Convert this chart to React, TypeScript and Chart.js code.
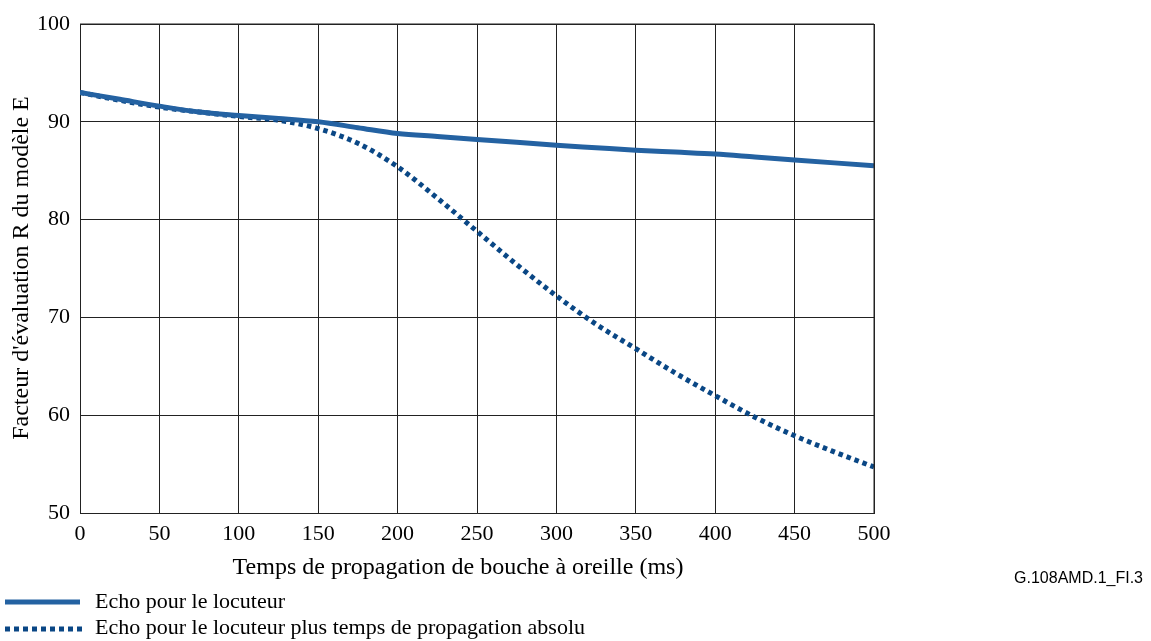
import React, { useEffect, useRef } from "react";
import { Chart, registerables } from "chart.js";

Chart.register(...registerables);

const delays = [0, 25, 50, 75, 100, 125, 150, 175, 200, 225, 250, 275, 300, 325, 350, 375, 400, 425, 450, 475, 500];
const echoSpeaker = [93.0, 92.3, 91.6, 91.0, 90.65, 90.35, 90.0, 89.4, 88.8, 88.5, 88.2, 87.9, 87.6, 87.35, 87.1, 86.9, 86.7, 86.4, 86.1, 85.8, 85.5];
const echoSpeakerAbs = [93.0, 92.2, 91.5, 91.0, 90.55, 90.15, 89.3, 87.8, 85.4, 82.2, 78.8, 75.4, 72.2, 69.3, 66.8, 64.3, 62.0, 59.8, 57.9, 56.25, 54.7];
const xTicks = [0, 50, 100, 150, 200, 250, 300, 350, 400, 450, 500];
const yTicks = [50, 60, 70, 80, 90, 100];

const seriesLabels = [
  "Echo pour le locuteur",
  "Echo pour le locuteur plus temps de propagation absolu",
];
const xTitle = "Temps de propagation de bouche à oreille (ms)";
const yTitle = "Facteur d'évaluation R du modèle E";
const figureId = "G.108AMD.1_FI.3";

const SOLID = "#2462a2";
const DOTTED = "#0a4785";
const SERIF = "'Liberation Serif', 'Times New Roman', serif";

const textPlugin = {
  id: "textPlugin",
  afterDraw(chart: any) {
    const ctx = chart.ctx as CanvasRenderingContext2D;
    ctx.save();
    ctx.fillStyle = "#000";
    ctx.font = `24px ${SERIF}`;
    ctx.textAlign = "center";
    ctx.textBaseline = "middle";
    ctx.fillText(xTitle, 458, 568);
    ctx.save();
    ctx.translate(22, 268);
    ctx.rotate(-Math.PI / 2);
    ctx.fillText(yTitle, 0, 0);
    ctx.restore();

    // legend
    ctx.lineCap = "butt";
    ctx.lineWidth = 5;
    ctx.strokeStyle = SOLID;
    ctx.setLineDash([]);
    ctx.beginPath();
    ctx.moveTo(5, 602);
    ctx.lineTo(80, 602);
    ctx.stroke();
    ctx.strokeStyle = DOTTED;
    ctx.setLineDash([5, 4]);
    ctx.beginPath();
    ctx.moveTo(5, 629);
    ctx.lineTo(82, 629);
    ctx.stroke();
    ctx.setLineDash([]);
    ctx.textAlign = "left";
    ctx.font = `22px ${SERIF}`;
    ctx.fillText(seriesLabels[0], 95, 602);
    ctx.fillText(seriesLabels[1], 95, 628);

    ctx.font = "16px 'Liberation Sans', Arial, sans-serif";
    ctx.textAlign = "right";
    ctx.fillText(figureId, 1143, 579);
    ctx.restore();
  },
};

export default function App() {
  const ref = useRef<HTMLCanvasElement>(null);
  useEffect(() => {
    if (!ref.current) return;
    const chart = new Chart(ref.current, {
      type: "line",
      data: {
        datasets: [
          {
            label: seriesLabels[0],
            data: delays.map((x, i) => ({ x, y: echoSpeaker[i] })),
            borderColor: SOLID,
            borderWidth: 5,
            pointRadius: 0,
            cubicInterpolationMode: "monotone",
            fill: false,
          },
          {
            label: seriesLabels[1],
            data: delays.map((x, i) => ({ x, y: echoSpeakerAbs[i] })),
            borderColor: DOTTED,
            borderWidth: 5,
            borderDash: [4.5, 4],
            borderCapStyle: "butt",
            pointRadius: 0,
            cubicInterpolationMode: "monotone",
            fill: false,
          },
        ],
      },
      options: {
        animation: false,
        responsive: true,
        maintainAspectRatio: false,
        layout: { padding: { top: 24, right: 277, left: 0, bottom: 0 } },
        plugins: { legend: { display: false }, tooltip: { enabled: false } },
        scales: {
          x: {
            type: "linear",
            min: 0,
            max: 500,
            afterBuildTicks: (s: any) => {
              s.ticks = xTicks.map((v) => ({ value: v }));
            },
            afterFit: (s: any) => {
              s.height = 128;
            },
            ticks: { font: { family: SERIF, size: 22 }, color: "#000", padding: 8, maxRotation: 0 },
            grid: { color: "#222", lineWidth: 1, drawTicks: false },
            border: { color: "#222", width: 1 },
          },
          y: {
            type: "linear",
            min: 50,
            max: 100,
            afterBuildTicks: (s: any) => {
              s.ticks = yTicks.map((v) => ({ value: v }));
            },
            afterFit: (s: any) => {
              s.width = 80;
            },
            ticks: { font: { family: SERIF, size: 22 }, color: "#000", padding: 10 },
            grid: { color: "#222", lineWidth: 1, drawTicks: false },
            border: { color: "#222", width: 1 },
          },
        },
      },
      plugins: [
        textPlugin,
        {
          id: "rightBorder",
          afterDraw(c: any) {
            const { ctx, chartArea } = c;
            ctx.save();
            ctx.strokeStyle = "#222";
            ctx.lineWidth = 1;
            ctx.beginPath();
            ctx.moveTo(chartArea.right, chartArea.top);
            ctx.lineTo(chartArea.right, chartArea.bottom);
            ctx.moveTo(chartArea.left, chartArea.top);
            ctx.lineTo(chartArea.right, chartArea.top);
            ctx.stroke();
            ctx.restore();
          },
        },
      ],
    } as any);
    return () => chart.destroy();
  }, []);
  return (
    <div style={{ position: "fixed", left: 0, top: 0, width: 1151, height: 641, background: "#fff" }}>
      <canvas ref={ref} />
    </div>
  );
}
